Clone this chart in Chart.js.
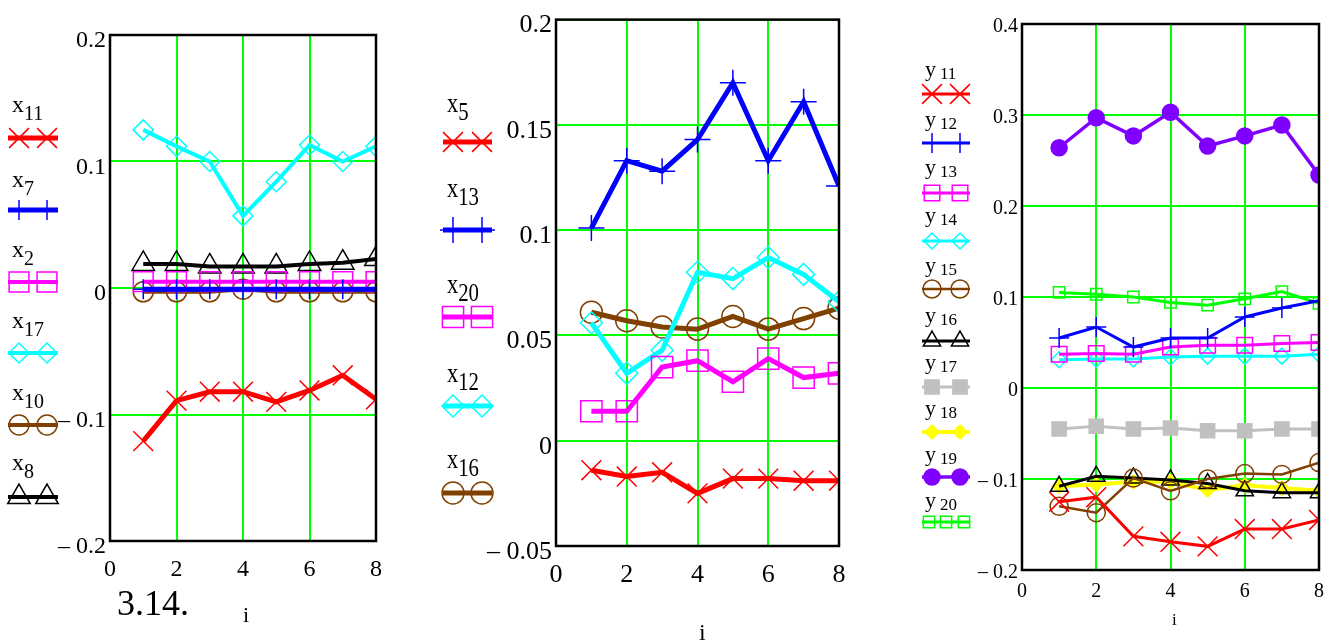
<!DOCTYPE html>
<html>
<head>
<meta charset="utf-8">
<script src="https://cdn.jsdelivr.net/npm/chart.js@4.4.0/dist/chart.umd.min.js"></script>
<style>
body { margin: 0; background: #fff; }
#wrap { position: relative; width: 1344px; height: 644px; overflow: hidden; font-family: "Liberation Serif", serif; }
#wrap canvas { position: absolute; top: 0; }
.lbl { position: absolute; line-height: 1; white-space: nowrap; color: #000; }
</style>
</head>
<body>
<div id="wrap">
  <canvas id="c1" width="400" height="600" style="left:0px"></canvas>
  <canvas id="c2" width="470" height="644" style="left:400px"></canvas>
  <canvas id="c3" width="464" height="644" style="left:880px"></canvas>
</div>
<script>
// index i along the x axis
const iVals = [1, 2, 3, 4, 5, 6, 7, 8];

// panel 1 (x series)
const x11 = [-0.121, -0.089, -0.082, -0.082, -0.090, -0.081, -0.069, -0.088];
const x7  = [-0.001, -0.001, -0.001, -0.001, -0.001, -0.001, -0.001, -0.001];
const x2  = [0.005, 0.005, 0.005, 0.005, 0.005, 0.005, 0.005, 0.005];
const x17 = [0.125, 0.112, 0.100, 0.057, 0.084, 0.113, 0.100, 0.112];
const x10 = [-0.003, -0.003, -0.003, -0.001, -0.003, -0.003, -0.003, -0.003];
const x8  = [0.019, 0.019, 0.017, 0.017, 0.017, 0.019, 0.020, 0.023];

// panel 2
const x5  = [-0.014, -0.017, -0.015, -0.025, -0.018, -0.018, -0.019, -0.019];
const x13 = [0.101, 0.133, 0.128, 0.143, 0.170, 0.133, 0.161, 0.121];
const x20 = [0.014, 0.014, 0.035, 0.038, 0.028, 0.039, 0.030, 0.032];
const x12 = [0.056, 0.032, 0.043, 0.080, 0.077, 0.087, 0.079, 0.066];
const x16 = [0.061, 0.057, 0.054, 0.053, 0.059, 0.053, 0.058, 0.063];

// panel 3 (y series)
const y11 = [-0.125, -0.120, -0.163, -0.169, -0.174, -0.155, -0.155, -0.145];
const y12 = [0.055, 0.067, 0.045, 0.055, 0.055, 0.078, 0.088, 0.096];
const y13 = [0.037, 0.038, 0.037, 0.045, 0.047, 0.047, 0.049, 0.050];
const y14 = [0.031, 0.032, 0.032, 0.034, 0.035, 0.035, 0.035, 0.037];
const y15 = [-0.130, -0.137, -0.099, -0.113, -0.100, -0.094, -0.095, -0.082];
const y16 = [-0.108, -0.097, -0.099, -0.101, -0.105, -0.113, -0.115, -0.115];
const y17 = [-0.045, -0.042, -0.045, -0.044, -0.047, -0.047, -0.045, -0.045];
const y18 = [-0.108, -0.106, -0.103, -0.103, -0.112, -0.107, -0.110, -0.113];
const y19 = [0.264, 0.297, 0.277, 0.303, 0.266, 0.277, 0.289, 0.234];
const y20 = [0.105, 0.103, 0.100, 0.094, 0.091, 0.098, 0.106, 0.093];

// axis ranges / ticks
const xTicks = [0, 8, 2];
const yTicks1 = [-0.2, 0.2, 0.1];
const yTicks2 = [-0.05, 0.2, 0.05];
const yTicks3 = [-0.2, 0.4, 0.1];

const FONT = '"Liberation Serif", serif';
const GRID = '#00ff00';

function pts(vals) {
  return vals.map((v, k) => ({ x: iVals[k], y: v }));
}

function series(label, vals, color, style, r, lw, mw, filled) {
  return {
    label: label, data: pts(vals),
    borderColor: color, borderWidth: lw,
    pointStyle: style, pointRadius: r, pointHoverRadius: r,
    pointBorderWidth: mw, pointBorderColor: color,
    pointBackgroundColor: filled ? color : 'rgba(0,0,0,0)',
    backgroundColor: 'rgba(0,0,0,0)', tension: 0, fill: false
  };
}

function fmtY(v) {
  if (Math.abs(v) < 1e-9) return '0';
  const s = String(+Math.abs(v).toFixed(3));
  return v < 0 ? '\u2013 ' + s : s;
}

// box round the plot + legend samples on the left
function panelPlugin(rows, x1, x2) {
  return {
    id: 'panelDeco',
    afterDatasetsDraw(chart) {
      const ctx = chart.ctx, a = chart.chartArea;
      ctx.save();
      ctx.strokeStyle = '#000';
      ctx.lineWidth = 2.5;
      ctx.strokeRect(a.left, a.top, a.right - a.left, a.bottom - a.top);
      chart.data.datasets.forEach((d, k) => {
        const row = rows[k];
        ctx.strokeStyle = d.borderColor;
        ctx.lineWidth = d.borderWidth;
        ctx.beginPath();
        ctx.moveTo(x1, row.y);
        ctx.lineTo(x2, row.y);
        ctx.stroke();
        ctx.strokeStyle = d.pointBorderColor;
        ctx.fillStyle = d.pointBackgroundColor;
        ctx.lineWidth = d.pointBorderWidth;
        row.marks.forEach(mx => {
          Chart.helpers.drawPoint(ctx, {
            pointStyle: d.pointStyle, radius: d.pointRadius,
            rotation: 0, borderWidth: d.pointBorderWidth
          }, mx, row.y);
        });
      });
      ctx.restore();
    }
  };
}

function makePanel(id, sets, p) {
  new Chart(document.getElementById(id), {
    type: 'line',
    data: { datasets: sets },
    options: {
      responsive: false, animation: false,
      events: [],
      layout: { padding: p.pad },
      plugins: { legend: { display: false }, tooltip: { enabled: false } },
      scales: {
        x: {
          type: 'linear', min: xTicks[0], max: xTicks[1],
          ticks: { stepSize: xTicks[2], color: '#000', font: { family: FONT, size: p.xFont }, padding: p.xPad, maxRotation: 0, autoSkip: false },
          grid: { color: GRID, lineWidth: 2, drawTicks: false },
          border: { display: false },
          afterFit: s => { s.height = p.xH; }
        },
        y: {
          min: p.yt[0], max: p.yt[1],
          ticks: { stepSize: p.yt[2], color: '#000', font: { family: FONT, size: p.yFont }, padding: 4, labelOffset: p.yOff, callback: fmtY, autoSkip: false },
          grid: { color: GRID, lineWidth: 2, drawTicks: false },
          border: { display: false },
          afterFit: s => { s.width = p.yW; }
        }
      }
    },
    plugins: [panelPlugin(p.rows, p.lx1, p.lx2)]
  });
}

const RED = '#ff0000', BLUE = '#0000ff', MAG = '#ff00ff', CYAN = '#00ffff',
      BROWN = '#804000', BLACK = '#000000', GRAY = '#c0c0c0', YEL = '#ffff00',
      PURP = '#8000ff', GREEN = '#00ff00';

makePanel('c1', [
  series('x11', x11, RED, 'crossRot', 14, 5, 1.5, false),
  series('x7', x7, BLUE, 'cross', 10, 5, 1.5, false),
  series('x2', x2, MAG, 'rect', 14, 4, 1.5, false),
  series('x17', x17, CYAN, 'rectRot', 10, 4, 1.5, false),
  series('x10', x10, BROWN, 'circle', 10, 4, 1.5, false),
  series('x8', x8, BLACK, 'triangle', 13, 4, 1.5, false)
], {
  pad: { left: 50, top: 35, right: 24, bottom: 19 }, xH: 40, yW: 60,
  xFont: 24, yFont: 24, xPad: 14, yOff: 6, yt: yTicks1, lx1: 8, lx2: 58,
  rows: [138, 210, 282, 353, 425, 497].map(y => ({ y: y, marks: [19, 47] }))
});

makePanel('c2', [
  series('x5', x5, RED, 'crossRot', 14, 5, 1.5, false),
  series('x13', x13, BLUE, 'cross', 13, 5, 1.5, false),
  series('x20', x20, MAG, 'rect', 15, 5, 1.5, false),
  series('x12', x12, CYAN, 'rectRot', 11, 5, 1.5, false),
  series('x16', x16, BROWN, 'circle', 11, 5, 1.5, false)
], {
  pad: { left: 76, top: 17, right: 31, bottom: 58 }, xH: 40, yW: 80,
  xFont: 26, yFont: 26, xPad: 14, yOff: 6, yt: yTicks2, lx1: 43, lx2: 92,
  rows: [142, 230, 317, 406, 493].map(y => ({ y: y, marks: [53, 82] }))
});

const rows3 = [94, 143, 193, 241, 289, 341, 387, 432, 477, 522].map(y => ({ y: y, marks: [52, 80] }));
rows3[9].marks = [49, 66, 84];
makePanel('c3', [
  series('y11', y11, RED, 'crossRot', 14, 3, 1.5, false),
  series('y12', y12, BLUE, 'cross', 10, 3, 1.5, false),
  series('y13', y13, MAG, 'rect', 11, 3, 1.5, false),
  series('y14', y14, CYAN, 'rectRot', 8, 3, 1.5, false),
  series('y15', y15, BROWN, 'circle', 9, 2.5, 1.5, false),
  series('y16', y16, BLACK, 'triangle', 10, 3, 1.5, false),
  series('y17', y17, GRAY, 'rect', 10, 3, 1.5, true),
  series('y18', y18, YEL, 'rectRot', 7, 4, 1.5, true),
  series('y19', y19, PURP, 'circle', 8, 3.5, 1.5, true),
  series('y20', y20, GREEN, 'rect', 8, 3, 1.5, false)
], {
  pad: { left: 72, top: 24, right: 25, bottom: 44 }, xH: 30, yW: 70,
  xFont: 20, yFont: 20, xPad: 10, yOff: 3, yt: yTicks3, lx1: 42, lx2: 90,
  rows: rows3
});

// text labels (legend names with subscripts, captions)
const wrap = document.getElementById('wrap');
function addLabel(main, sub, left, base, size, subSize, drop, gap, sx) {
  const el = document.createElement('div');
  el.className = 'lbl';
  el.style.left = left + 'px';
  el.style.top = (base - 0.8375 * size) + 'px';
  el.style.fontSize = size + 'px';
  if (sx) { el.style.transform = 'scaleX(' + sx + ')'; el.style.transformOrigin = 'left top'; }
  el.textContent = main;
  if (sub) {
    const s = document.createElement('span');
    s.style.fontSize = subSize + 'px';
    s.style.position = 'relative';
    s.style.top = drop + 'px';
    s.style.marginLeft = gap + 'px';
    s.textContent = sub;
    el.appendChild(s);
  }
  wrap.appendChild(el);
}

[['11', 112], ['7', 187], ['2', 257], ['17', 328], ['10', 400], ['8', 470]]
  .forEach(l => addLabel('x', l[0], 12, l[1], 24, 20, 8, 0));
[['5', 112], ['13', 197], ['20', 293], ['12', 382], ['16', 468]]
  .forEach(l => addLabel('x', l[0], 447, l[1], 28, 26, 8, 0, 0.8));
[['11', 76], ['12', 126], ['13', 174], ['14', 222], ['15', 272], ['16', 322], ['17', 369], ['18', 415], ['19', 461], ['20', 507]]
  .forEach(l => addLabel('y', l[0], 925, l[1], 22, 17, 3, 4));

addLabel('3.14.', '', 117, 615, 36);
addLabel('i', '', 243, 622, 22);
addLabel('i', '', 699, 640, 24);
addLabel('i', '', 1172, 625, 17);
</script>
</body>
</html>
